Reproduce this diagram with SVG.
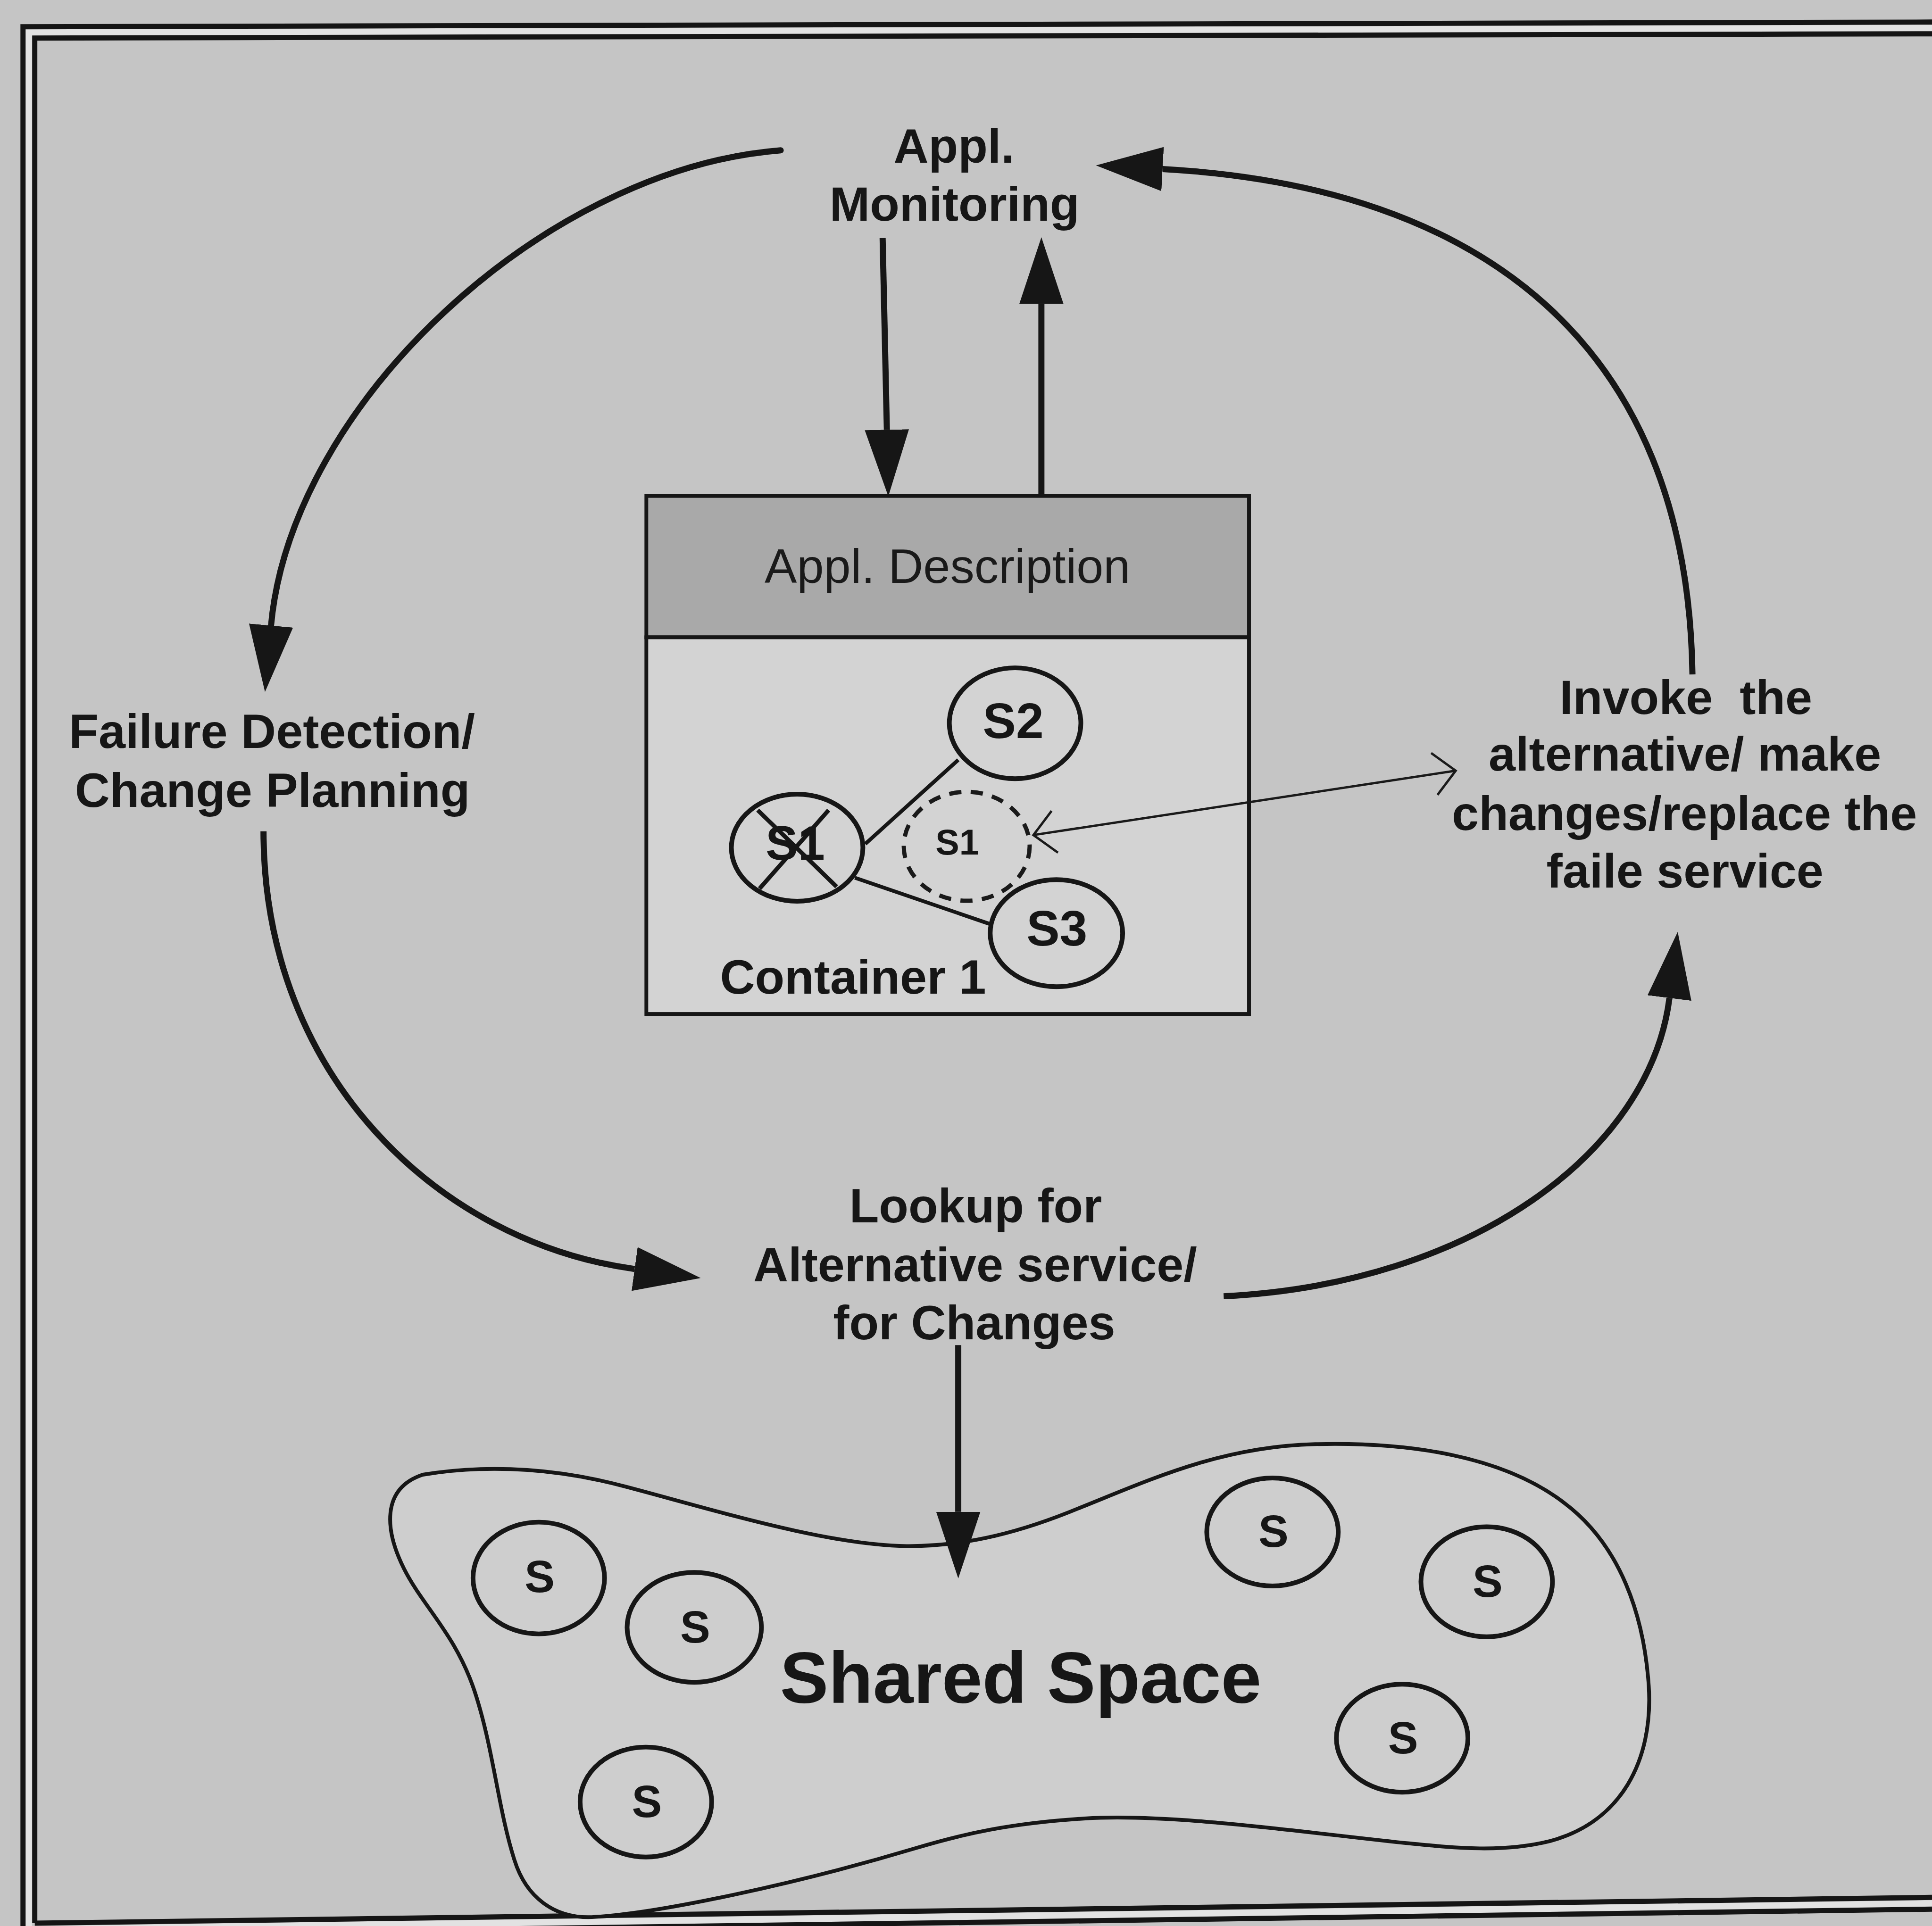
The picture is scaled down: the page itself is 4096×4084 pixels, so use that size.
<svg xmlns="http://www.w3.org/2000/svg" width="4096" height="4084" viewBox="0 0 4096 4084">
  <defs>
    <style>
      .bg { fill: #c5c5c5; }
      .frame { fill: none; stroke: #151515; stroke-width: 11; }
      .gap { fill: none; stroke: #e2e2e2; stroke-width: 14; }
      .flow { fill: none; stroke: #161616; stroke-width: 13; }
      .thin { fill: none; stroke: #1a1a1a; stroke-width: 5; }
      .edge { fill: none; stroke: #161616; stroke-width: 8; }
      .cross { fill: none; stroke: #161616; stroke-width: 9; }
      .svc { fill: none; stroke: #161616; stroke-width: 10; }
      .dash { fill: none; stroke: #1a1a1a; stroke-width: 9; stroke-dasharray: 26 20; }
      .lbl { font-family: "Liberation Sans", Arial, sans-serif; font-weight: bold; font-size: 103px; fill: #161616; text-anchor: middle; }
      .reg { font-family: "Liberation Sans", Arial, sans-serif; font-weight: normal; font-size: 103px; fill: #1a1a1a; text-anchor: middle; }
      .sv { font-family: "Liberation Sans", Arial, sans-serif; font-weight: bold; font-size: 96px; fill: #161616; text-anchor: middle; }
      .big { font-size: 155px; }
      .small { font-size: 76px; }
      .mid { font-size: 106px; }
    </style>
    <marker id="head" markerUnits="userSpaceOnUse" viewBox="0 -50 145 100" markerWidth="145" markerHeight="100" refX="0" refY="0" orient="auto">
      <path d="M0,-47 L142,0 L0,47 Z" fill="#161616"/>
    </marker>
    <marker id="open" markerUnits="userSpaceOnUse" viewBox="-60 -60 70 120" markerWidth="70" markerHeight="120" refX="0" refY="0" orient="auto-start-reverse">
      <path d="M-46,-45 L0,0 L-46,45" fill="none" stroke="#1a1a1a" stroke-width="5"/>
    </marker>
  </defs>

  <rect class="bg" x="0" y="0" width="4096" height="4084"/>

  <g transform="scale(0.99587)">
    <!-- double border -->
    <g id="border">
      <path class="gap" d="M61,4110 L61,69 L4113,60"/>
      <path class="gap" d="M61,4108 L4113,4053"/>
      <path class="frame" d="M49,4125 L49,57 L4113,47"/>
      <path class="frame" d="M74,4095 L74,81 L4113,72"/>
      <path class="frame" d="M74,4095 L4113,4040"/>
      <path class="frame" d="M49,4121 L4113,4065"/>
    </g>

    <!-- labels of the adaptation loop -->
    <g id="monitoring">
      <text class="lbl" x="2031" y="346">Appl.</text>
      <text class="lbl" x="2032" y="470">Monitoring</text>
    </g>
    <g id="failure-detection">
      <text class="lbl" x="579" y="1593">Failure Detection/</text>
      <text class="lbl" x="580" y="1718">Change Planning</text>
    </g>
    <g id="lookup">
      <text class="lbl" x="2077" y="2603">Lookup for</text>
      <text class="lbl" x="2076" y="2728">Alternative service/</text>
      <text class="lbl" x="2074" y="2852">for Changes</text>
    </g>
    <g id="invoke">
      <text class="lbl" x="3589" y="1520" xml:space="preserve">Invoke  the</text>
      <text class="lbl" x="3587" y="1641">alternative/ make</text>
      <text class="lbl" x="3586" y="1767">changes/replace the</text>
      <text class="lbl" x="3587" y="1890">faile service</text>
    </g>

    <!-- container with application description -->
    <g id="container">
      <rect x="1376" y="1056" width="1283" height="301" fill="#a9a9a9" stroke="#161616" stroke-width="8"/>
      <rect x="1376" y="1357" width="1283" height="802" fill="#d3d3d3" stroke="#161616" stroke-width="8"/>
      <text class="reg" x="2017" y="1241">Appl. Description</text>
      <text class="lbl" x="1816" y="2116">Container 1</text>
    </g>

    <g id="service-links">
      <line class="edge" x1="1842" y1="1797" x2="2040" y2="1618"/>
      <line class="edge" x1="1820" y1="1869" x2="2109" y2="1968"/>
    </g>

    <g id="s1-failed">
      <ellipse class="svc" cx="1697" cy="1805" rx="140" ry="114"/>
      <text class="sv" x="1693" y="1831" style="font-size:103px">S1</text>
      <line class="cross" x1="1613" y1="1725" x2="1781" y2="1888"/>
      <line class="cross" x1="1764" y1="1725" x2="1617" y2="1892"/>
    </g>
    <g id="s1-replacement">
      <ellipse class="dash" cx="2058" cy="1802" rx="134" ry="116"/>
      <text class="sv small" x="2038" y="1820">S1</text>
    </g>
    <g id="s2">
      <ellipse class="svc" cx="2161" cy="1540" rx="140" ry="118"/>
      <text class="sv mid" x="2157" y="1571">S2</text>
    </g>
    <g id="s3">
      <ellipse class="svc" cx="2249" cy="1987" rx="141" ry="114"/>
      <text class="sv mid" x="2250" y="2013">S3</text>
    </g>

    <!-- shared space of services -->
    <g id="shared-space">
      <path d="M900,3140
               C1050,3115 1200,3130 1330,3165
               C1520,3215 1760,3290 1930,3292
               C2060,3293 2180,3260 2300,3210
               C2450,3150 2600,3080 2800,3075
               C3000,3070 3200,3100 3330,3200
               C3450,3290 3500,3440 3510,3590
               C3520,3750 3450,3880 3300,3920
               C3200,3945 3100,3935 3000,3925
               C2800,3905 2500,3860 2310,3872
               C2150,3882 2050,3905 1950,3935
               C1700,4010 1400,4075 1260,4082
               C1180,4085 1120,4040 1095,3960
               C1060,3850 1050,3720 1010,3600
               C970,3480 900,3420 860,3340
               C820,3260 810,3170 900,3140 Z"
            fill="#cecece" stroke="#161616" stroke-width="8"/>
      <text class="lbl big" x="2173" y="3626">Shared Space</text>
    </g>
    <g id="space-s1">
      <ellipse class="svc" cx="1147" cy="3360" rx="140" ry="119"/>
      <text class="sv" x="1149" y="3390">S</text>
    </g>
    <g id="space-s2">
      <ellipse class="svc" cx="1478" cy="3465" rx="143" ry="117"/>
      <text class="sv" x="1480" y="3497">S</text>
    </g>
    <g id="space-s3">
      <ellipse class="svc" cx="1375" cy="3837" rx="140" ry="117"/>
      <text class="sv" x="1377" y="3869">S</text>
    </g>
    <g id="space-s4">
      <ellipse class="svc" cx="2709" cy="3262" rx="140" ry="115"/>
      <text class="sv" x="2711" y="3294">S</text>
    </g>
    <g id="space-s5">
      <ellipse class="svc" cx="3165" cy="3368" rx="140" ry="117"/>
      <text class="sv" x="3167" y="3400">S</text>
    </g>
    <g id="space-s6">
      <ellipse class="svc" cx="2985" cy="3701" rx="140" ry="115"/>
      <text class="sv" x="2987" y="3733">S</text>
    </g>

    <!-- connectors -->
    <g id="connectors">
      <path class="flow" stroke-linecap="round" d="M1662,320 C1158,360 620,860 577,1332" marker-end="url(#head)"/>
      <path class="flow" d="M561,1770 C561,2292 935,2645 1351,2702" marker-end="url(#head)"/>
      <path class="flow" d="M2605,2760 C3134,2734 3513,2452 3554,2125" marker-end="url(#head)"/>
      <path class="flow" d="M3603,1436 C3593,733 3154,397 2475,360" marker-end="url(#head)"/>
      <path class="flow" d="M1879,507 L1888,915" marker-end="url(#head)"/>
      <path class="flow" d="M2217,1056 L2217,647" marker-end="url(#head)"/>
      <path class="flow" d="M2040,2864 L2040,3219" marker-end="url(#head)"/>
      <path class="thin" d="M2200,1778 L3099,1641" marker-start="url(#open)" marker-end="url(#open)"/>
    </g>
  </g>
</svg>
